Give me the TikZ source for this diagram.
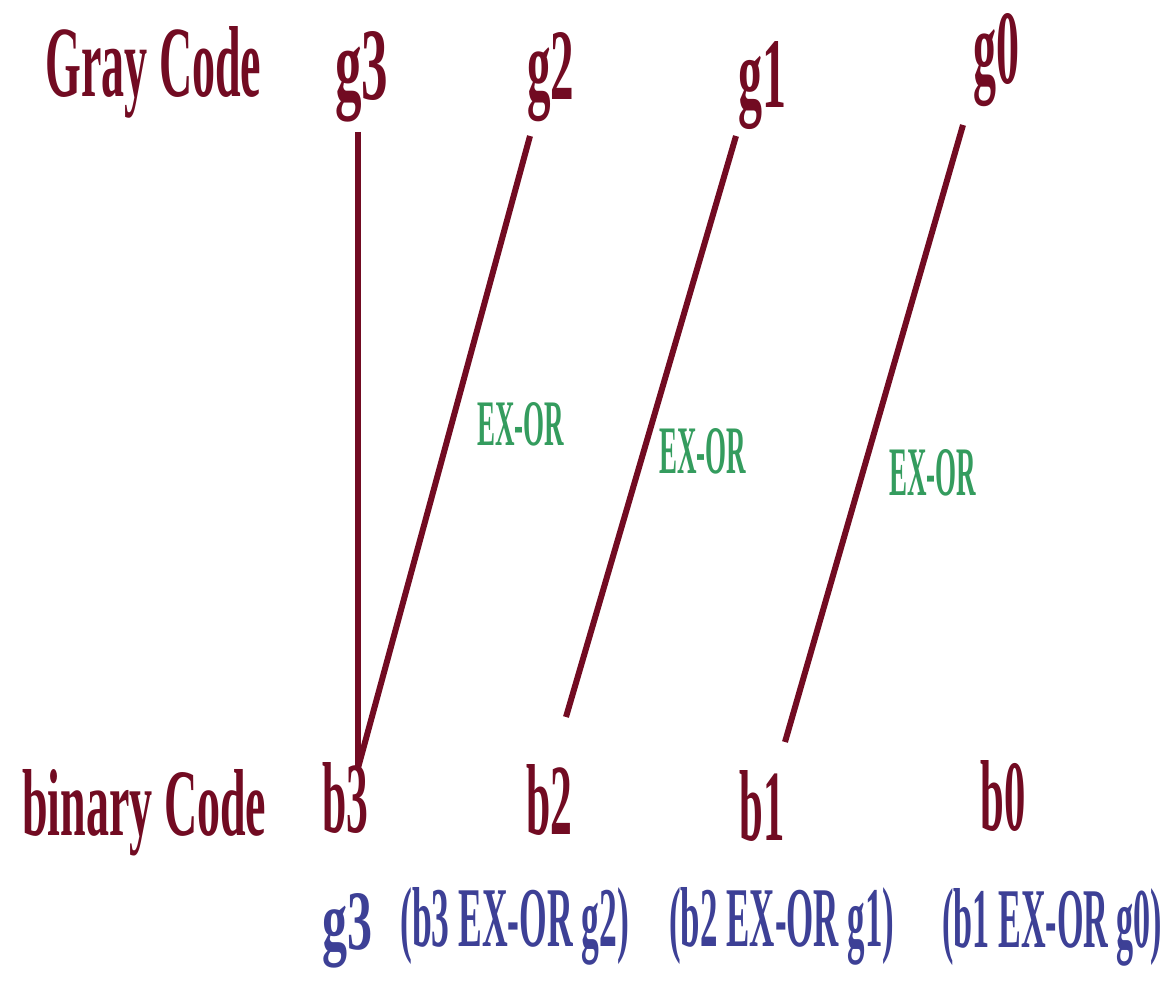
\documentclass[tikz,border=0pt]{standalone}
\usepackage{fontspec}
\setmainfont{Liberation Serif}
\usepackage{graphicx}
\newdimen\pxu \pxu=0.02cm
\newcommand\fitt[3]{\resizebox{#1\pxu}{#2\pxu}{#3}}
\definecolor{gcmaroon}{HTML}{720B22}
\definecolor{gcgreen}{HTML}{349C5E}
\definecolor{gcblue}{HTML}{3D4096}
\begin{document}
\begin{tikzpicture}[x=0.02cm,y=-0.02cm,
  lbl/.style={inner sep=0pt, anchor=base west},
  red/.style={lbl, text=gcmaroon, font=\bfseries},
  blu/.style={lbl, text=gcblue, font=\bfseries},
  grn/.style={lbl, text=gcgreen, font=\bfseries},
  conn/.style={draw=gcmaroon, line width=0.12cm}]
\useasboundingbox[fill=white] (0,0) rectangle (1171,982);
% top row
\node[red] (gray) at (45,97) {\fitt{216}{70}{Gray Code}};
\node[red] (g3) at (335,100) {\fitt{53}{68}{g3}};
\node[red] (g2) at (527,100) {\fitt{47}{67}{g2}};
\node[red] (g1) at (738,108) {\fitt{48}{66}{g1}};
\node[red] (g0) at (973,84) {\fitt{46}{70}{g0}};
% bottom row
\node[red] (bin) at (22,836) {\fitt{244}{66}{binary Code}};
\node[red] (b3) at (322,833) {\fitt{46}{70}{b3}};
\node[red] (b2) at (526,835) {\fitt{46}{70}{b2}};
\node[red] (b1) at (739,841) {\fitt{45}{70}{b1}};
\node[red] (b0) at (980,831) {\fitt{45}{70}{b0}};
% results
\node[blu] (r3) at (322,950) {\fitt{50}{56}{g3}};
\node[blu] (r2) at (400,947) {\fitt{229}{59}{(b3 EX-OR g2)}};
\node[blu] (r1) at (669,947) {\fitt{225}{59}{(b2 EX-OR g1)}};
\node[blu] (r0) at (942,948) {\fitt{220}{59}{(b1 EX-OR g0)}};
% EX-OR labels
\node[grn] (x2) at (477,446) {\fitt{87}{43}{EX-OR}};
\node[grn] (x1) at (659,474) {\fitt{87}{45}{EX-OR}};
\node[grn] (x0) at (889,496) {\fitt{87}{46}{EX-OR}};
% connector ends
\coordinate (g3s) at (358,132);
\coordinate (g2s) at (530,136);
\coordinate (g1s) at (736,136);
\coordinate (g0s) at (963,125);
\coordinate (b3n) at (358,768);
\coordinate (b2n) at (566,717);
\coordinate (b1n) at (785,742);
\draw[conn] (g3s) -- (b3n);
\draw[conn] (g2s) -- (b3n);
\draw[conn] (g1s) -- (b2n);
\draw[conn] (g0s) -- (b1n);
\end{tikzpicture}
\end{document}
